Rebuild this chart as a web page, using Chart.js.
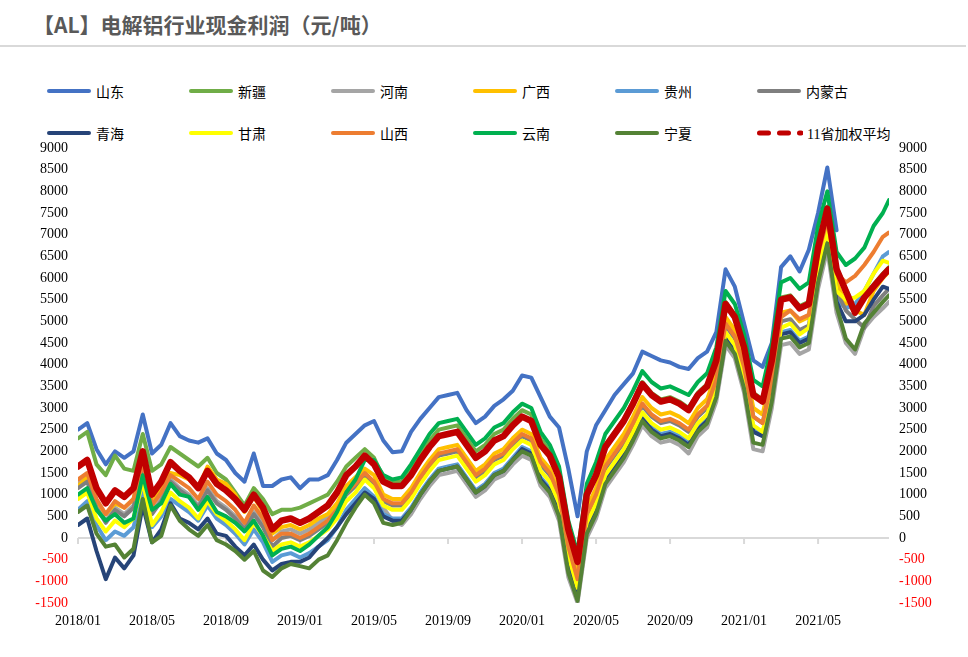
<!DOCTYPE html>
<html>
<head>
<meta charset="utf-8">
<script src="https://cdn.jsdelivr.net/npm/chart.js@4.4.1/dist/chart.umd.min.js"></script>
<style>
  body { margin: 0; background: #fff; }
  #wrap { position: relative; width: 968px; height: 657px; overflow: hidden; }
  #title { position: absolute; left: 33px; top: 9px; font: bold 21px "Noto Sans CJK SC", sans-serif; color: #595959; white-space: nowrap; }
  #rule { position: absolute; left: 0; top: 45px; width: 966px; height: 2px; background: #d9d9d9; }
  .item { position: absolute; height: 20px; display: flex; align-items: center; font: 14px "Liberation Serif", "Noto Sans CJK SC", serif; color: #000; white-space: nowrap; }
  .swatch { width: 44px; height: 4px; border-radius: 2px; margin-right: 5px; }
  .item svg { margin-right: 4px; }
  canvas { position: absolute; left: 0; top: 0; }
</style>
</head>
<body>
<div id="wrap">
  <div id="title">【AL】电解铝行业现金利润（元/吨）</div>
  <div id="rule"></div>
  <div id="legend"></div>
  <canvas id="chart" width="968" height="657"></canvas>
</div>
<script>
// semi-monthly sample dates
const dates = [
  '2018/01/01','2018/01/16','2018/02/01','2018/02/16','2018/03/01','2018/03/16','2018/04/01','2018/04/16',
  '2018/05/01','2018/05/16','2018/06/01','2018/06/16','2018/07/01','2018/07/16','2018/08/01','2018/08/16',
  '2018/09/01','2018/09/16','2018/10/01','2018/10/16','2018/11/01','2018/11/16','2018/12/01','2018/12/16',
  '2019/01/01','2019/01/16','2019/02/01','2019/02/16','2019/03/01','2019/03/16','2019/04/01','2019/04/16',
  '2019/05/01','2019/05/16','2019/06/01','2019/06/16','2019/07/01','2019/07/16','2019/08/01','2019/08/16',
  '2019/09/01','2019/09/16','2019/10/01','2019/10/16','2019/11/01','2019/11/16','2019/12/01','2019/12/16',
  '2020/01/01','2020/01/16','2020/02/01','2020/02/16','2020/03/01','2020/03/16','2020/04/01','2020/04/16',
  '2020/05/01','2020/05/16','2020/06/01','2020/06/16','2020/07/01','2020/07/16','2020/08/01','2020/08/16',
  '2020/09/01','2020/09/16','2020/10/01','2020/10/16','2020/11/01','2020/11/16','2020/12/01','2020/12/16',
  '2021/01/01','2021/01/16','2021/02/01','2021/02/16','2021/03/01','2021/03/16','2021/04/01','2021/04/16',
  '2021/05/01','2021/05/16','2021/06/01','2021/06/16','2021/07/01','2021/07/16','2021/08/01','2021/08/16',
  '2021/08/26'
];

const tickLabels = ['2018/01','2018/05','2018/09','2019/01','2019/05','2019/09','2020/01','2020/05','2020/09','2021/01','2021/05'];

const names = ['山东','新疆','河南','广西','贵州','内蒙古','青海','甘肃','山西','云南','宁夏','11省加权平均'];
const colors = ['#4472C4','#70AD47','#A5A5A5','#FFC000','#5B9BD5','#7F7F7F','#264478','#FFFF00','#ED7D31','#00B050','#548235','#C00000'];

const shandong = [2500,2650,2050,1700,2000,1850,2000,2850,1950,2150,
  2650,2350,2250,2200,2300,1950,1800,1500,1300,1950,
  1200,1200,1350,1400,1150,1350,1350,1450,1800,2200,
  2400,2600,2700,2250,1980,2000,2450,2750,3000,3250,
  3300,3350,2950,2650,2800,3050,3200,3400,3750,3700,
  3250,2800,2550,1600,500,2000,2600,2950,3300,3550,
  3800,4300,4200,4100,4050,3950,3900,4150,4300,4750,
  6200,5800,4950,4100,3950,4500,6250,6500,6150,6650,
  7500,8550,7100,null,null,null,null,null,null];

const xinjiang = [2300,2450,1700,1450,1900,1600,1550,2400,1550,1700,
  2100,1950,1800,1650,1850,1500,1350,1050,750,1150,
  900,550,650,650,700,800,900,1000,1300,1650,
  1850,2050,1850,1400,1300,1300,1600,1950,2250,2500,
  2550,2600,2300,2000,2150,2400,2500,2750,2950,2850,
  2300,2000,1500,300,-400,1050,1500,2150,2450,2750,
  3150,3600,3350,3200,3250,3150,3000,3350,3550,4150,
  5450,5150,4450,3350,3200,4150,5550,5600,5350,5450,
  6850,7650,6250,5750,5300,5600,5850,6100,6250];

const henan = [1250,1400,750,400,700,550,750,1600,600,900,
  1350,1150,1000,750,1150,850,700,500,250,600,
  350,-50,150,200,100,200,350,500,750,1150,
  1300,1500,1200,700,400,300,550,900,1200,1450,
  1500,1550,1250,950,1100,1350,1450,1700,1900,1800,
  1200,950,400,-900,-1500,0,450,1150,1450,1750,
  2150,2600,2350,2200,2250,2150,1950,2350,2550,3150,
  4450,4150,3350,2050,2000,3000,4450,4500,4250,4350,
  5750,6650,5200,4500,4250,4850,5100,5300,5450];

const guangxi = [1200,1400,850,550,800,700,900,1750,800,1150,
  1500,1450,1350,1150,1650,1350,1250,1000,600,950,
  600,100,250,300,200,300,450,550,800,1200,
  1400,1600,1450,1000,900,900,1150,1500,1800,2050,
  2100,2150,1850,1550,1700,1950,2050,2300,2500,2400,
  1850,1600,1100,-100,-850,700,1150,1800,2100,2400,
  2800,3250,3000,2850,2900,2800,2650,3000,3200,3800,
  5100,4800,4100,3000,2850,3800,5200,5250,5000,5100,
  6500,7300,5900,5400,5250,5150,5700,6000,6150];

const guizhou = [650,850,300,-50,150,50,250,1100,250,500,
  900,750,600,400,750,450,300,100,-150,200,
  -100,-550,-400,-350,-450,-350,-200,-50,250,650,
  900,1150,950,550,450,450,700,1050,1350,1600,
  1650,1700,1400,1100,1250,1500,1600,1850,2100,2000,
  1400,1150,650,-550,-1250,250,700,1350,1650,1950,
  2350,2800,2550,2400,2450,2350,2200,2550,2750,3350,
  4650,4350,3650,2550,2400,3350,4750,4800,4550,4650,
  6050,6900,5500,5300,5400,5700,6100,6500,6600];

const neimenggu = [1150,1300,700,350,650,500,700,1550,550,850,
  1300,1100,950,700,1100,800,650,450,200,550,
  250,-200,0,50,-50,50,200,350,600,1000,
  1200,1450,1250,850,750,750,1000,1350,1650,1900,
  1950,2000,1700,1400,1550,1800,1900,2150,2350,2250,
  1700,1450,950,-250,-1000,500,950,1600,1900,2200,
  2600,3050,2800,2650,2700,2600,2450,2800,3000,3600,
  4900,4600,3900,2800,2650,3600,5000,5050,4800,4900,
  6300,7100,5700,5250,5050,4850,5350,5600,5750];

const qinghai = [300,450,-300,-950,-450,-700,-400,750,-100,200,
  800,450,350,200,450,100,50,-200,-400,-150,
  -500,-750,-600,-550,-550,-450,-200,0,250,550,
  800,1050,900,500,400,400,650,1000,1300,1550,
  1600,1650,1350,1050,1200,1450,1550,1800,2050,1950,
  1350,1100,600,-600,-1300,200,650,1300,1600,1900,
  2300,2750,2500,2350,2400,2300,2150,2500,2700,3300,
  4600,4300,3600,2450,2350,3300,4700,4750,4500,4600,
  6000,6850,5450,5000,5000,5150,5500,5800,5750];

const gansu = [900,1050,450,150,400,250,450,1300,300,600,
  1050,850,700,450,850,550,400,200,-50,350,
  50,-300,-150,-100,-200,-100,50,200,450,850,
  1050,1350,1150,750,650,650,900,1250,1550,1800,
  1850,1900,1600,1300,1450,1700,1800,2050,2250,2150,
  1550,1300,800,-400,-1150,350,800,1450,1750,2050,
  2450,2900,2650,2500,2550,2450,2300,2650,2850,3450,
  4750,4450,3750,2600,2450,3400,4850,4950,4700,4850,
  6250,7100,5700,5500,5550,5700,6100,6400,6350];

const shanxi = [1350,1500,900,550,850,700,900,1750,750,1050,
  1450,1300,1150,900,1300,1000,850,650,350,750,
  450,-50,100,100,0,100,250,400,650,1050,
  1250,1500,1300,900,800,800,1050,1400,1700,1950,
  2000,2050,1750,1450,1600,1850,1950,2200,2400,2300,
  1750,1500,1000,-200,-950,550,1000,1650,1950,2250,
  2650,3100,2850,2700,2750,2650,2500,2850,3050,3650,
  4950,4650,3950,2800,2650,3600,5100,5250,5050,5150,
  6550,7350,6100,5900,6050,6300,6600,6950,7050];

const yunnan = [1000,1150,650,400,550,350,450,1450,650,800,
  1250,1000,950,650,950,600,500,350,150,400,
  50,-400,-250,-200,-300,-150,50,250,600,1050,
  1350,1800,1800,1450,1350,1400,1700,2050,2400,2650,
  2700,2750,2450,2150,2300,2550,2650,2900,3100,3000,
  2450,2150,1650,400,-350,1250,1750,2400,2700,3000,
  3400,3850,3600,3450,3500,3400,3300,3600,3800,4400,
  5700,5400,4700,3650,3500,4450,5900,6000,5750,5900,
  7200,8000,6600,6300,6450,6700,7200,7500,7800];

const ningxia = [600,750,100,-200,-150,-450,-250,900,-100,50,
  750,400,200,50,300,-50,-150,-300,-500,-300,
  -750,-900,-700,-600,-650,-700,-500,-400,-50,350,
  700,1000,800,350,300,350,650,1000,1300,1550,
  1600,1650,1350,1050,1200,1450,1550,1800,2000,1900,
  1300,1050,500,-800,-1450,100,550,1250,1550,1850,
  2250,2700,2450,2300,2350,2250,2100,2450,2650,3250,
  4550,4250,3450,2200,2150,3150,4600,4650,4400,4500,
  5900,6800,5350,4600,4350,4950,5200,5450,5600];

const avg11 = [1650,1800,1150,800,1100,950,1150,2000,1000,1300,
  1750,1550,1400,1150,1550,1250,1100,900,650,1000,
  700,200,400,450,350,450,600,750,1050,1450,
  1650,1900,1700,1300,1200,1200,1450,1800,2100,2350,
  2400,2450,2150,1850,2000,2250,2350,2600,2800,2700,
  2150,1900,1400,200,-550,1000,1450,2100,2400,2700,
  3100,3550,3300,3150,3200,3100,2950,3300,3500,4100,
  5400,5100,4400,3300,3150,4100,5500,5550,5300,5400,
  6700,7600,6200,5700,5200,5550,5800,6050,6200];

const seriesList = [shandong, xinjiang, henan, guangxi, guizhou, neimenggu, qinghai, gansu, shanxi, yunnan, ningxia, avg11];

// months since 2018/01 for each date
function toMonths(d) {
  const [yy, mm, dd] = d.split('/').map(Number);
  return (yy - 2018) * 12 + (mm - 1) + (dd - 1) / 30;
}
const xs = dates.map(toMonths);

// legend (two rows of six)
const legend = document.getElementById('legend');
names.forEach((name, k) => {
  const el = document.createElement('div');
  el.className = 'item';
  el.style.left = (47 + 142 * (k % 6)) + 'px';
  el.style.top = (k < 6 ? 81 : 123) + 'px';
  if (k === 11) {
    el.innerHTML = '<svg width="46" height="8"><line x1="2.5" y1="4" x2="44" y2="4" stroke="' + colors[k] +
      '" stroke-width="5" stroke-linecap="round" stroke-dasharray="9 11"/></svg>' + name;
  } else {
    el.innerHTML = '<span class="swatch" style="background:' + colors[k] + '"></span>' + name;
  }
  legend.appendChild(el);
});

const datasets = seriesList.map((vals, k) => ({
  label: names[k],
  data: vals.map((v, i) => ({ x: xs[i], y: v })),
  borderColor: colors[k],
  backgroundColor: colors[k],
  borderWidth: k === 11 ? 6.5 : 4,
  borderCapStyle: 'round',
  borderJoinStyle: 'round',
  pointRadius: 0,
  tension: 0,
  order: 11 - k
}));

const tickFont = { family: 'Liberation Serif', size: 14 };
const tickColor = ctx => ctx.tick.value < 0 ? '#ff0000' : '#000';

// tick marks hanging from the zero line
const zeroTicks = {
  id: 'zeroTicks',
  beforeDatasetsDraw(chart) {
    const { ctx, scales: { x, y } } = chart;
    const y0 = y.getPixelForValue(0);
    ctx.save();
    ctx.strokeStyle = '#d9d9d9';
    ctx.lineWidth = 2;
    tickLabels.forEach((t, i) => {
      const px = x.getPixelForValue(i * 4);
      ctx.beginPath();
      ctx.moveTo(px, y0);
      ctx.lineTo(px, y0 + 6);
      ctx.stroke();
    });
    ctx.restore();
  }
};

new Chart(document.getElementById('chart'), {
  type: 'line',
  data: { datasets },
  plugins: [zeroTicks],
  options: {
    responsive: false,
    animation: false,
    layout: { padding: { top: 148, left: 0, right: 0, bottom: 0 } },
    plugins: { legend: { display: false }, tooltip: { enabled: false } },
    scales: {
      x: {
        type: 'linear',
        min: 0,
        max: xs[xs.length - 1],
        grid: { display: false, drawTicks: false },
        border: { display: false },
        ticks: {
          stepSize: 4,
          autoSkip: false,
          includeBounds: false,
          maxRotation: 0,
          padding: 10,
          color: '#000',
          font: tickFont,
          callback: v => tickLabels[v / 4] ?? ''
        },
        afterFit: s => { s.height = 54; }
      },
      y: {
        position: 'left',
        min: -1500,
        max: 9000,
        grid: {
          drawTicks: false,
          lineWidth: 2,
          color: ctx => ctx.tick.value === 0 ? '#d9d9d9' : 'rgba(0,0,0,0)'
        },
        border: { display: false },
        ticks: { stepSize: 500, padding: 10, font: tickFont, color: tickColor, callback: v => String(v) },
        afterFit: s => { s.width = 78; }
      },
      y2: {
        position: 'right',
        min: -1500,
        max: 9000,
        grid: { display: false, drawTicks: false },
        border: { display: false },
        ticks: { stepSize: 500, padding: 10, font: tickFont, color: tickColor, callback: v => String(v) },
        afterFit: s => { s.width = 79; }
      }
    }
  }
});
</script>
</body>
</html>
